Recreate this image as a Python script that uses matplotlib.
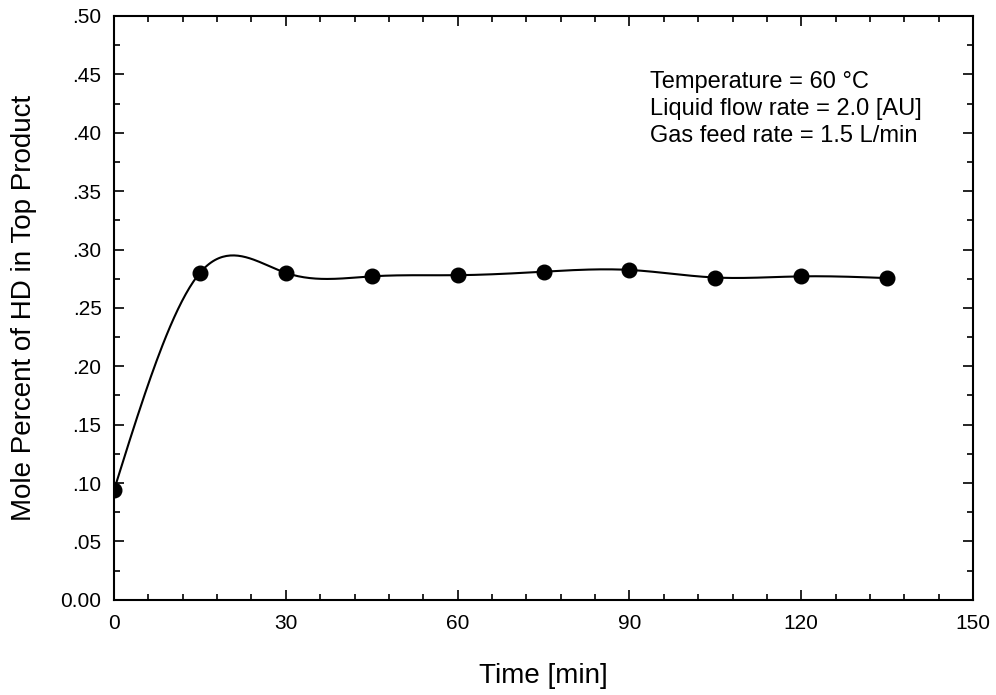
import numpy as np
import matplotlib
matplotlib.use("Agg")
import matplotlib.pyplot as plt
from matplotlib.ticker import MultipleLocator, FuncFormatter

plt.rcParams['font.family'] = ['Liberation Sans', 'DejaVu Sans']

time_min = [0, 15, 30, 45, 60, 75, 90, 105, 120, 135]
mole_hd = [0.094, 0.280, 0.280, 0.277, 0.278, 0.281, 0.2825, 0.276, 0.277, 0.2755]
notes = ["Temperature = 60 \u00b0C",
         "Liquid flow rate = 2.0 [AU]",
         "Gas feed rate = 1.5 L/min"]


def natural_spline(x, y, xs):
    # plain natural cubic spline, like the smooth curve of the original plot
    x = np.asarray(x, float)
    y = np.asarray(y, float)
    n = len(x)
    h = np.diff(x)
    A = np.zeros((n, n))
    b = np.zeros(n)
    A[0, 0] = A[-1, -1] = 1
    for i in range(1, n - 1):
        A[i, i - 1] = h[i - 1]
        A[i, i] = 2 * (h[i - 1] + h[i])
        A[i, i + 1] = h[i]
        b[i] = 6 * ((y[i + 1] - y[i]) / h[i] - (y[i] - y[i - 1]) / h[i - 1])
    m = np.linalg.solve(A, b)
    idx = np.clip(np.searchsorted(x, xs) - 1, 0, n - 2)
    x0, x1 = x[idx], x[idx + 1]
    hh = x1 - x0
    t0, t1 = x1 - xs, xs - x0
    return (m[idx] * t0 ** 3 / (6 * hh) + m[idx + 1] * t1 ** 3 / (6 * hh)
            + (y[idx] / hh - m[idx] * hh / 6) * t0
            + (y[idx + 1] / hh - m[idx + 1] * hh / 6) * t1)


fig = plt.figure(figsize=(9.96, 6.95), dpi=100)
ax = fig.add_axes([0.1145, 0.137, 0.8625, 0.84])

xs = np.linspace(time_min[0], time_min[-1], 400)
ax.plot(xs, natural_spline(time_min, mole_hd, xs), color='black', lw=1.5)
ax.plot(time_min, mole_hd, 'o', color='black', ms=10.5)

ax.set_xlim(0, 150)
ax.set_ylim(0, 0.5)
ax.xaxis.set_major_locator(MultipleLocator(30))
ax.xaxis.set_minor_locator(MultipleLocator(6))
ax.yaxis.set_major_locator(MultipleLocator(0.05))
ax.yaxis.set_minor_locator(MultipleLocator(0.025))
ax.yaxis.set_major_formatter(FuncFormatter(
    lambda v, p: "0.00" if abs(v) < 1e-9 else ("%.2f" % v).lstrip("0")))

ax.tick_params(which='both', direction='in', top=True, right=True,
               labelsize=15, width=1.2)
ax.tick_params(which='major', length=7)
ax.tick_params(axis='x', which='major', pad=10)
ax.tick_params(axis='y', which='major', pad=9)
ax.tick_params(which='minor', length=4)
for s in ax.spines.values():
    s.set_linewidth(1.5)

ax.set_xlabel("Time [min]", fontsize=20, labelpad=22)
ax.set_ylabel("Mole Percent of HD in Top Product", fontsize=20, labelpad=17)

ax.text(0.624, 0.905, "\n".join(notes), transform=ax.transAxes,
        fontsize=17, va='top', ha='left', linespacing=1.29)

fig.savefig("out.png", dpi=100)
